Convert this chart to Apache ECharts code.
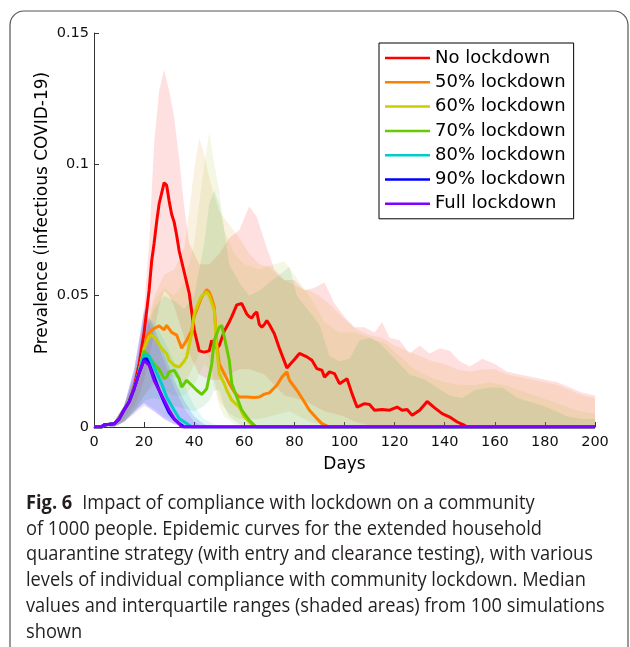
<!DOCTYPE html>
<html><head><meta charset="utf-8">
<script src="https://cdn.jsdelivr.net/npm/echarts@6/dist/echarts.min.js"></script>
<style>html,body{margin:0;padding:0;background:#fff}#c{width:630px;height:647px}</style>
</head><body><div id="c"></div>
<script>
// ---------- DATA ----------
const seriesNames = ['No lockdown','50% lockdown','60% lockdown','70% lockdown','80% lockdown','90% lockdown','Full lockdown'];
const xTicks = [0,20,40,60,80,100,120,140,160,180,200];
const yTicks = [0,0.05,0.1,0.15];

// medians
const noLockDays = [0,3,4,8,10,12,14,16,18,20,22,23,24,25,26,27,28,29,30,31,32,33,34,35,36,37,38,39,40,41,42,44,46,47,48,49,50,52,54,55,57,59,60,61,62,63,64,65,66,67,68,69,70,72,74,77,80,82,85,87,89,91,92,94,96,98,101,103,105,108,110,112,115,118,121,123,125,127,130,133,136,139,142,145,148,149,200];
const noLockMed  = [0,0,0.0008,0.0012,0.003,0.0065,0.0095,0.015,0.024,0.036,0.052,0.063,0.07,0.078,0.085,0.089,0.093,0.092,0.086,0.081,0.078,0.073,0.067,0.063,0.059,0.055,0.051,0.044,0.037,0.033,0.029,0.0285,0.029,0.033,0.031,0.030,0.031,0.0365,0.040,0.042,0.0465,0.047,0.045,0.043,0.042,0.0415,0.043,0.0438,0.039,0.038,0.039,0.0405,0.039,0.0355,0.030,0.0225,0.0257,0.028,0.0267,0.0254,0.0222,0.0216,0.019,0.021,0.0203,0.0165,0.0184,0.0127,0.0076,0.0089,0.0086,0.0064,0.0067,0.0064,0.0076,0.0064,0.0067,0.0045,0.0064,0.0097,0.0073,0.0051,0.0038,0.0019,0.0006,0,0];

const lock50Days = [0,3,4,8,10,12,14,16,18,20,21,22,24,26,28,29,31,33,35,37,39,40,42,43,45,46,47,48,49,50,52,54,56,58,61,64,66,68,70,73,75,77,78,81,84,86,89,91,94,200];
const lock50Med  = [0,0,0.0008,0.0012,0.003,0.0065,0.0095,0.0145,0.021,0.030,0.034,0.036,0.0375,0.0385,0.037,0.0387,0.036,0.035,0.030,0.033,0.0368,0.042,0.047,0.0495,0.0523,0.0514,0.049,0.0457,0.0317,0.024,0.0203,0.0165,0.0133,0.0114,0.0114,0.0112,0.0114,0.0125,0.013,0.0159,0.019,0.021,0.0178,0.014,0.0095,0.0064,0.0032,0.0013,0,0];

const lock60Days = [0,3,4,8,10,12,14,16,18,20,22,23,25,27,29,30,32,34,36,37,39,40,42,43,45,46,48,49,50,52,53,55,58,60,63,65,200];
const lock60Med  = [0,0,0.0008,0.0012,0.003,0.0065,0.0095,0.0145,0.021,0.030,0.0343,0.035,0.033,0.030,0.028,0.0254,0.0235,0.0228,0.025,0.0267,0.0355,0.043,0.048,0.050,0.0514,0.050,0.0444,0.030,0.0203,0.0165,0.014,0.0102,0.0076,0.0038,0.001,0,0];

const lock70Days = [0,3,4,8,10,12,14,16,18,20,22,24,26,28,29,30,32,34,35,37,39,41,43,45,47,48,50,51,52,54,55,57,59,62,64,65,200];
const lock70Med  = [0,0,0.0008,0.0012,0.003,0.0065,0.0095,0.0145,0.021,0.029,0.027,0.024,0.022,0.0184,0.019,0.021,0.0216,0.0184,0.0152,0.0178,0.0159,0.014,0.0124,0.0146,0.024,0.033,0.038,0.0387,0.0343,0.0254,0.0165,0.0114,0.0064,0.0025,0.0006,0,0];

const lock80Days = [0,3,4,8,10,12,14,16,18,19,20,22,24,27,29,32,34,37,39,200];
const lock80Med  = [0,0,0.0008,0.0012,0.003,0.0065,0.0095,0.0145,0.021,0.025,0.0277,0.027,0.0228,0.0165,0.0114,0.0064,0.0032,0.0013,0,0];

const lock90Days = [0,3,4,8,10,12,14,16,18,20,21,22,24,26,28,30,32,34,36,200];
const lock90Med  = [0,0,0.0008,0.0012,0.003,0.0065,0.0095,0.0145,0.0205,0.0258,0.026,0.024,0.019,0.014,0.0095,0.0055,0.003,0.0013,0,0];

const fullDays = [0,3,4,8,10,12,14,16,18,20,22,24,26,28,30,32,34,35,200];
const fullMed  = [0,0,0.0008,0.0012,0.003,0.0065,0.0095,0.0145,0.0205,0.0254,0.0235,0.0178,0.014,0.0102,0.0064,0.0032,0.0013,0,0];

// interquartile ranges
const noLockBandDays = [8,12,16,18,20,22,24,26,28,30,32,34,36,38,42,46,50,54,58,62,65,68,72,76,80,84,88,92,96,100,104,108,112,115,118,122,126,130,134,138,142,146,150,155,160,165,170,175,180,185,190,195,200];
const noLockUpper = [0.002,0.008,0.02,0.03,0.045,0.07,0.108,0.128,0.136,0.128,0.118,0.102,0.084,0.07,0.062,0.062,0.066,0.072,0.075,0.084,0.08,0.071,0.060,0.056,0.056,0.052,0.053,0.055,0.047,0.042,0.038,0.038,0.036,0.040,0.034,0.033,0.028,0.031,0.028,0.030,0.029,0.025,0.023,0.026,0.024,0.021,0.020,0.019,0.018,0.017,0.015,0.013,0.012];
const noLockLower = [0,0.003,0.008,0.012,0.018,0.026,0.036,0.046,0.052,0.05,0.046,0.04,0.034,0.028,0.02,0.018,0.018,0.02,0.022,0.022,0.021,0.02,0.016,0.012,0.011,0.01,0.008,0.006,0.005,0.004,0.002,0.001,0,0,0,0,0,0,0,0,0,0,0,0,0,0,0,0,0,0,0,0,0];

const lock50BandDays = [8,12,16,20,24,28,32,36,38,40,42,44,46,48,50,54,58,62,66,70,74,78,82,86,90,95,100,105,110,115,120,125,130,135,140,145,150,155,160,165,170,175,180,185,190,195,200];
const lock50Upper = [0.002,0.008,0.018,0.034,0.05,0.058,0.06,0.068,0.082,0.098,0.11,0.104,0.095,0.088,0.082,0.077,0.072,0.066,0.062,0.061,0.057,0.055,0.053,0.052,0.05,0.046,0.041,0.037,0.035,0.034,0.031,0.029,0.027,0.025,0.024,0.022,0.021,0.022,0.022,0.02,0.019,0.018,0.017,0.016,0.014,0.012,0.011];
const lock50Lower = [0,0.002,0.006,0.012,0.018,0.02,0.019,0.017,0.02,0.024,0.028,0.03,0.026,0.018,0.01,0.005,0.003,0.003,0.003,0.004,0.005,0.006,0.004,0.002,0.001,0,0,0,0,0,0,0,0,0,0,0,0,0,0,0,0,0,0,0,0,0,0];

const lock60BandDays = [8,12,16,20,24,28,32,36,40,42,44,46,48,50,52,56,60,66,72,76,80,86,92,98,104,110,116,122,128,134,140,146,152,158,164,170,176,182,188,194,200];
const lock60Upper = [0.002,0.008,0.018,0.034,0.048,0.053,0.05,0.055,0.07,0.085,0.1,0.112,0.1,0.09,0.075,0.066,0.062,0.06,0.062,0.063,0.058,0.05,0.04,0.036,0.036,0.034,0.032,0.027,0.022,0.019,0.017,0.016,0.016,0.017,0.016,0.014,0.012,0.01,0.008,0.006,0.005];
const lock60Lower = [0,0.002,0.006,0.012,0.016,0.014,0.012,0.012,0.016,0.02,0.024,0.022,0.015,0.008,0.004,0.001,0,0,0,0,0,0,0,0,0,0,0,0,0,0,0,0,0,0,0,0,0,0,0,0,0];

const lock70BandDays = [8,12,16,20,24,28,32,36,40,44,46,48,50,52,54,58,62,66,70,74,78,81,86,90,94,98,102,106,110,114,120,126,132,137,142,147,152,158,163,169,176,182,189,195,200];
const lock70Upper = [0.002,0.008,0.018,0.034,0.045,0.05,0.048,0.045,0.05,0.07,0.085,0.09,0.085,0.075,0.062,0.055,0.05,0.052,0.055,0.058,0.061,0.05,0.044,0.039,0.027,0.025,0.026,0.033,0.034,0.032,0.026,0.02,0.018,0.015,0.012,0.011,0.014,0.015,0.015,0.011,0.009,0.007,0.004,0.003,0.003];
const lock70Lower = [0,0.002,0.005,0.01,0.011,0.01,0.008,0.007,0.006,0.008,0.01,0.014,0.014,0.008,0.004,0.001,0,0,0,0,0,0,0,0,0,0,0,0,0,0,0,0,0,0,0,0,0,0,0,0,0,0,0,0,0];

const lock80BandDays = [6,8,12,16,20,24,28,32,36,40,44,48,52];
const lock80Upper = [0.001,0.002,0.008,0.022,0.042,0.04,0.033,0.025,0.016,0.008,0.003,0.001,0];
const lock80Lower = [0,0,0.002,0.006,0.009,0.007,0.004,0.002,0,0,0,0,0];

const lock90BandDays = [6,8,12,16,20,24,28,32,36,40,44,48];
const lock90Upper = [0.001,0.002,0.008,0.022,0.045,0.038,0.028,0.018,0.01,0.004,0.001,0];
const lock90Lower = [0,0,0.002,0.006,0.009,0.006,0.003,0.001,0,0,0,0];

const fullBandDays = [6,8,12,16,20,24,28,32,36,40,44];
const fullUpper = [0.001,0.002,0.008,0.022,0.044,0.035,0.025,0.015,0.007,0.002,0];
const fullLower = [0,0,0.002,0.005,0.008,0.006,0.003,0.001,0,0,0];

const captionLines = [
  'of 1000 people. Epidemic curves for the extended household',
  'quarantine strategy (with entry and clearance testing), with various',
  'levels of individual compliance with community lockdown. Median',
  'values and interquartile ranges (shaded areas) from 100 simulations',
  'shown'
];
const captionBold = 'Fig. 6';
const captionFirst = 'Impact of compliance with lockdown on a community';

// ---------- STYLE ----------
const lineColors = ['#ff0000','#ff8000','#cccc00','#66cc00','#00cccc','#0000ff','#8000ff'];
const bandColors = ['rgba(255,0,0,0.12)','rgba(213,141,7,0.12)','rgba(170,190,40,0.12)','rgba(50,165,70,0.12)','rgba(0,204,204,0.12)','rgba(0,0,255,0.12)','rgba(128,0,255,0.12)'];

const medians = [[noLockDays,noLockMed],[lock50Days,lock50Med],[lock60Days,lock60Med],[lock70Days,lock70Med],[lock80Days,lock80Med],[lock90Days,lock90Med],[fullDays,fullMed]];
const bands = [[noLockBandDays,noLockLower,noLockUpper],[lock50BandDays,lock50Lower,lock50Upper],[lock60BandDays,lock60Lower,lock60Upper],[lock70BandDays,lock70Lower,lock70Upper],[lock80BandDays,lock80Lower,lock80Upper],[lock90BandDays,lock90Lower,lock90Upper],[fullBandDays,fullLower,fullUpper]];

function bandSeries(i){
  const [days, lo, hi] = bands[i];
  return {
    type:'custom', name: seriesNames[i]+' IQR', silent:true, clip:true, z:1,
    data: days.map((d,k)=>[d, lo[k], hi[k]]),
    encode:{x:0, y:[1,2]},
    renderItem:function(params, api){
      if(params.dataIndex!==0) return null;
      const pts=[];
      for(let k=0;k<days.length;k++) pts.push(api.coord([days[k], hi[k]]));
      for(let k=days.length-1;k>=0;k--) pts.push(api.coord([days[k], lo[k]]));
      return {type:'polygon', shape:{points:pts}, style:{fill:bandColors[i], stroke:null}};
    }
  };
}
function lineSeries(i){
  const [days, vals] = medians[i];
  return {
    type:'line', name: seriesNames[i], z:3+i, showSymbol:false, symbol:'none',
    data: days.map((d,k)=>[d, vals[k]]),
    lineStyle:{color:lineColors[i], width:3}, itemStyle:{color:lineColors[i]},
    emphasis:{disabled:true}
  };
}

// caption measurement
const mctx = document.createElement('canvas').getContext('2d');
function tw(s, font){ mctx.font = font; return mctx.measureText(s).width; }
const capFont = '20px "Open Sans"';
const capBoldFont = 'bold 20px "Open Sans"';
const capScale = 567 / tw(captionLines[1], capFont);
const capX = 26, capY0 = 503, capStep = 25.8;
const capColor = '#231f20';
const graphics = [
  {type:'rect', z:-10, shape:{x:10,y:11,width:618,height:720,r:14}, style:{fill:'none', stroke:'#555', lineWidth:1.2}},
  {type:'text', x:43, y:213, rotation:Math.PI/2, style:{text:'Prevalence (infectious COVID-19)', font:'17px "DejaVu Sans"', fill:'#000', align:'center', verticalAlign:'middle'}},
  {type:'text', x:capX, y:capY0, scaleX:capScale, style:{text:captionBold, font:capBoldFont, fill:capColor, align:'left', verticalAlign:'middle'}},
  {type:'text', x:capX + tw(captionBold, capBoldFont)*capScale + 10, y:capY0, scaleX:capScale, style:{text:captionFirst, font:capFont, fill:capColor, align:'left', verticalAlign:'middle'}}
];
captionLines.forEach((t,k)=>{
  graphics.push({type:'text', x:capX, y:capY0 + capStep*(k+1), scaleX:capScale, style:{text:t, font:capFont, fill:capColor, align:'left', verticalAlign:'middle'}});
});

const chart = echarts.init(document.getElementById('c'), null, {renderer:'canvas'});
const series = [];
for(let i=0;i<7;i++) series.push(bandSeries(i));
for(let i=0;i<7;i++) series.push(lineSeries(i));

chart.setOption({
  animation:false,
  backgroundColor:'#fff',
  grid:{left:94, top:33, width:501, height:394, containLabel:false},
  xAxis:{type:'value', min:xTicks[0], max:xTicks[xTicks.length-1], interval:20,
    name:'Days', nameLocation:'middle', nameGap:29,
    nameTextStyle:{fontSize:17, fontFamily:'DejaVu Sans', color:'#000'},
    axisLine:{lineStyle:{color:'#333', width:1}},
    axisTick:{inside:true, length:5, lineStyle:{color:'#333'}},
    axisLabel:{fontSize:14.5, fontFamily:'DejaVu Sans', color:'#111', margin:8},
    splitLine:{show:false}},
  yAxis:{type:'value', min:yTicks[0], max:yTicks[yTicks.length-1], interval:0.05,
    axisLine:{show:true, lineStyle:{color:'#333', width:1}},
    axisTick:{show:true, inside:true, length:5, lineStyle:{color:'#333'}},
    axisLabel:{fontSize:14.5, fontFamily:'DejaVu Sans', color:'#111', margin:5},
    splitLine:{show:false}},
  legend:{data:seriesNames, orient:'vertical', left:379, top:43, icon:'rect', itemWidth:45, itemHeight:2.5, itemGap:4.3,
    padding:[5,8,5,6], borderColor:'#000', borderWidth:1, backgroundColor:'#fff', selectedMode:false,
    textStyle:{fontSize:18, fontFamily:'DejaVu Sans', color:'#000', lineHeight:20}},
  graphic:graphics,
  series:series
});
</script></body></html>
